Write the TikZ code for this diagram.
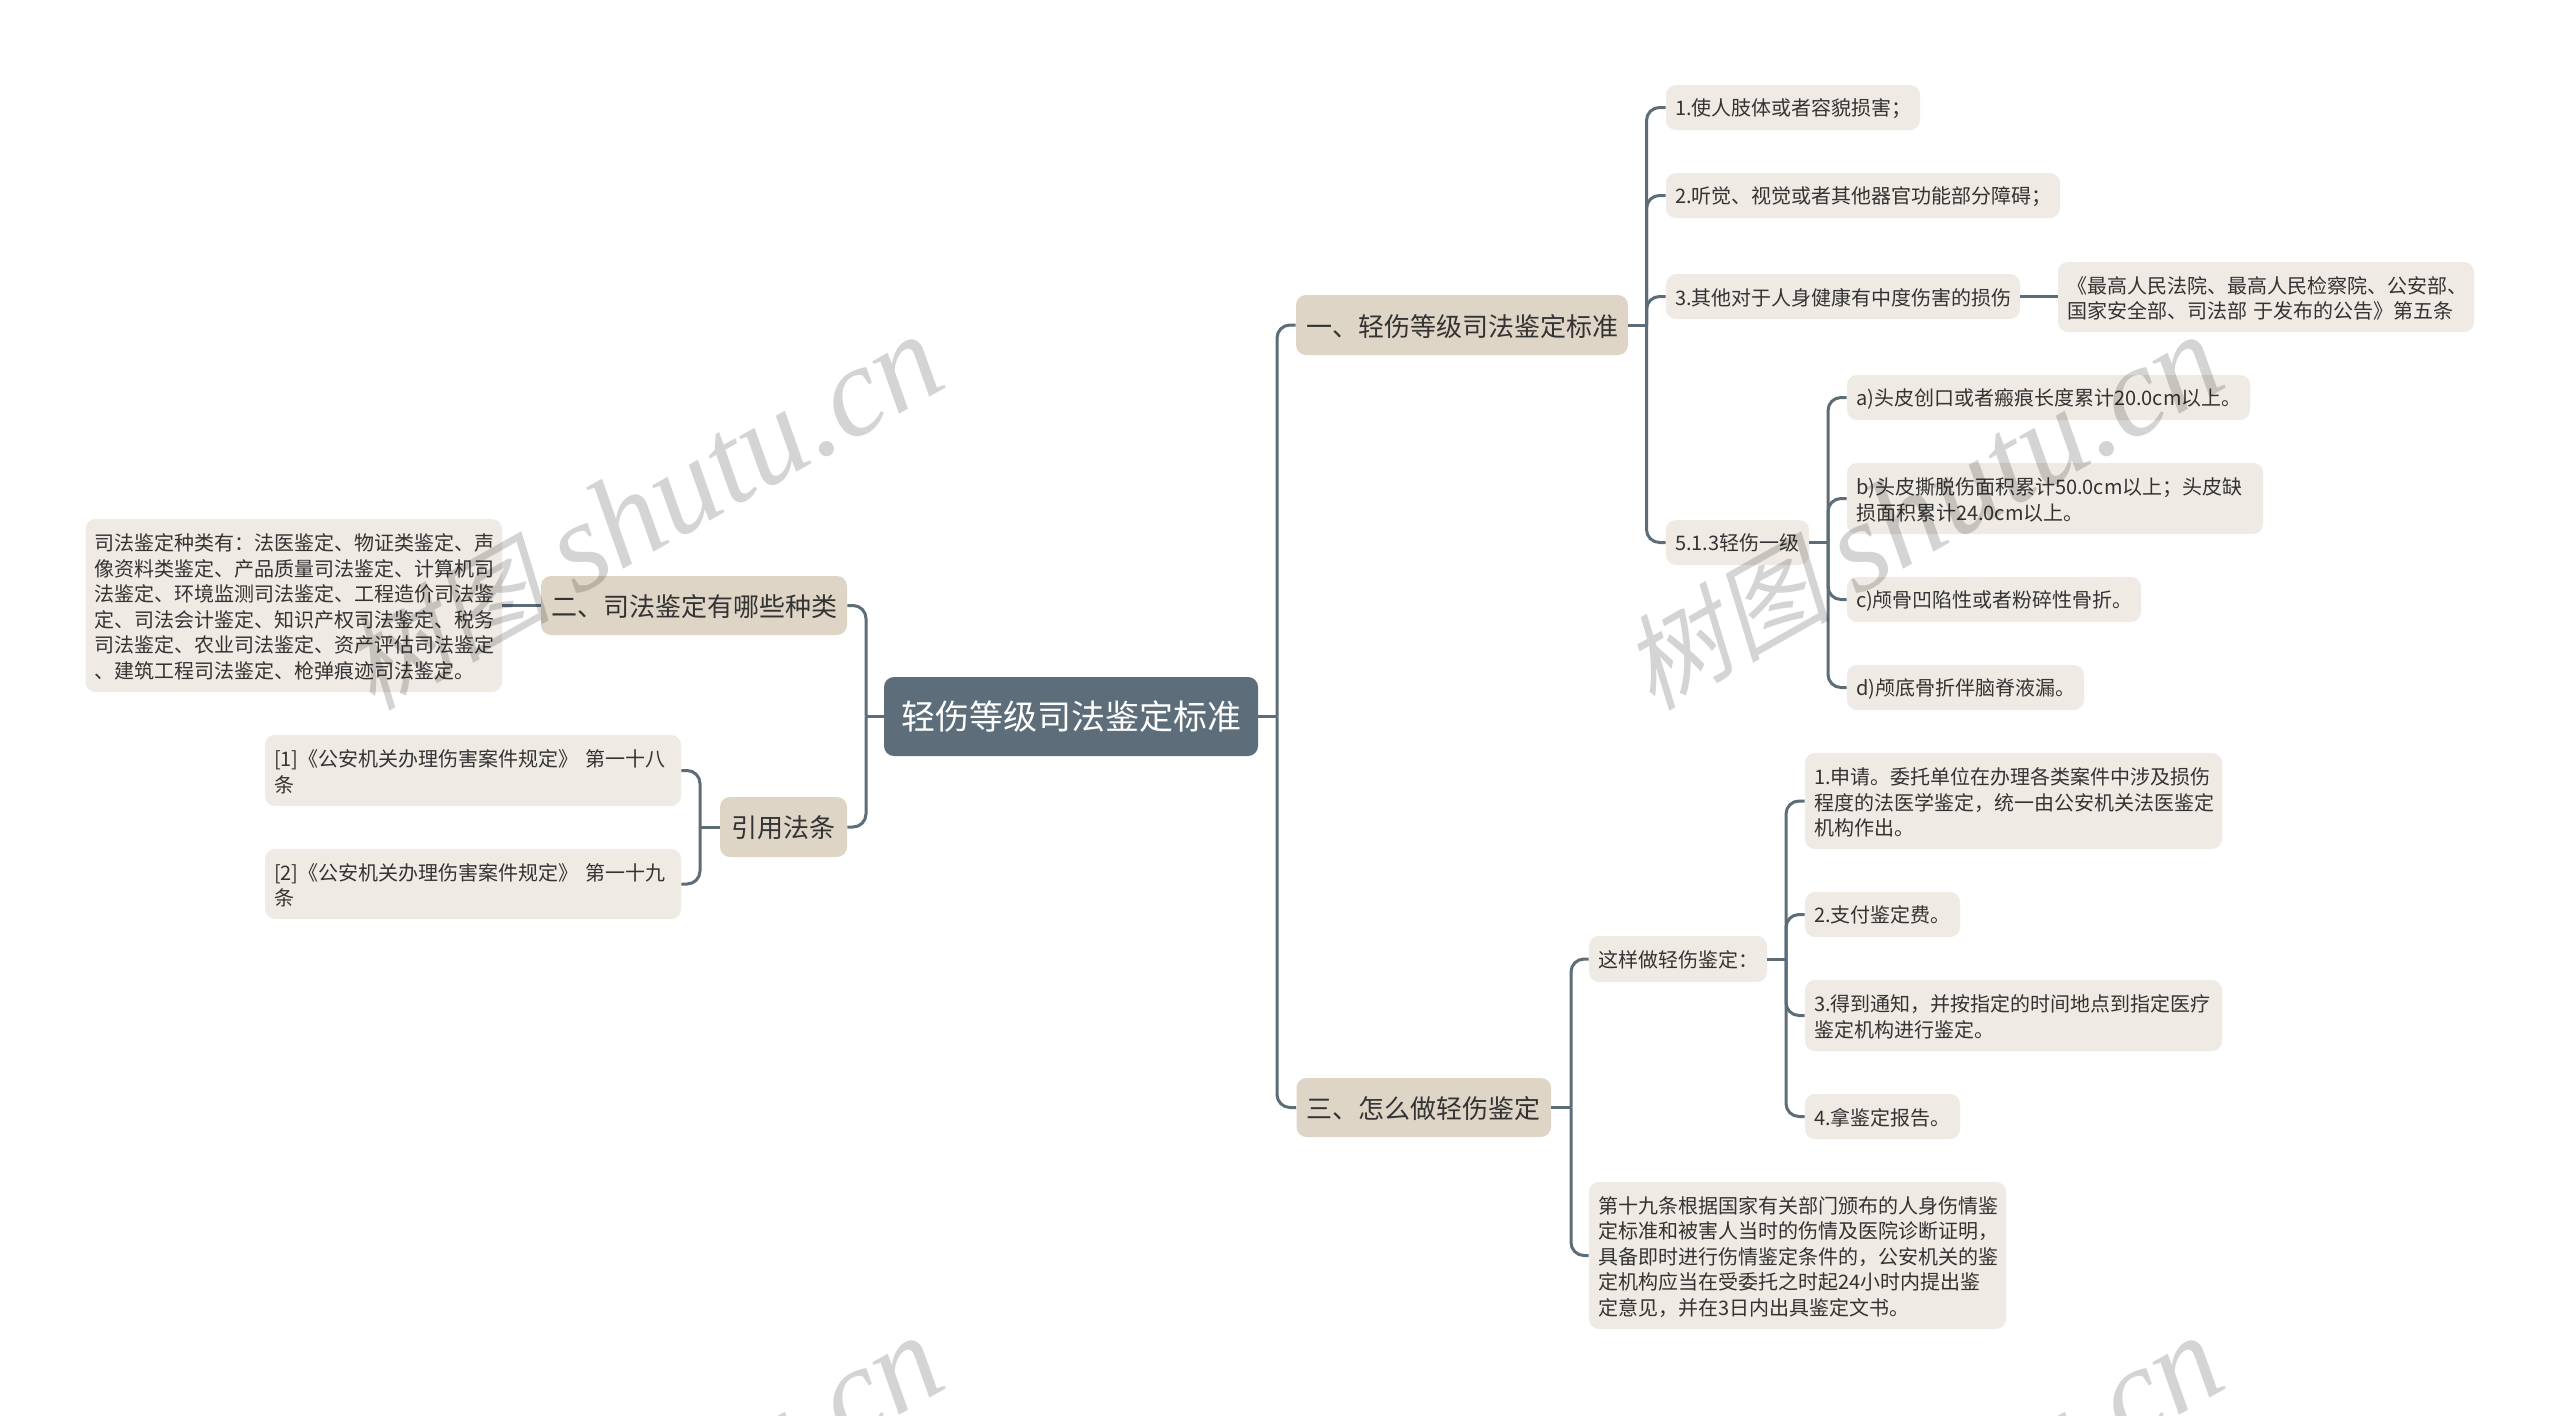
\documentclass[tikz,border=0pt]{standalone}
\usepackage{fontspec}
\setmainfont{Noto Sans CJK SC}
\newfontfamily\wmcjk[FakeSlant=0.22]{Noto Sans CJK SC}
\newfontfamily\wmlat[ItalicFont=Liberation Serif Italic]{Liberation Serif}
\definecolor{rootc}{HTML}{5D6E7A}
\definecolor{branchc}{HTML}{DFD5C6}
\definecolor{leafc}{HTML}{EFEBE4}
\definecolor{linec}{HTML}{5C6D78}
\definecolor{txtc}{HTML}{333333}
\tikzset{
  boxbase/.style={rectangle,rounded corners=5pt,inner sep=0pt,text=txtc},
  rootbox/.style={boxbase,fill=rootc,text=white,align=center,font=\fontsize{17}{21}\selectfont},
  branchbox/.style={boxbase,fill=branchc,align=center,font=\fontsize{13}{16}\selectfont},
  leafbox/.style={boxbase,fill=leafc,align=left,font=\fontsize{10}{12.75}\selectfont},
  conn/.style={draw=linec,line width=1.5pt,rounded corners=6.5pt},
  stub/.style={draw=linec,line width=1.5pt},
  wmark/.style={text=black,text opacity=0.17,rotate=29.4,inner sep=0pt,anchor=base}
}
\newcommand\wmtext{{\wmcjk\fontsize{52}{60}\selectfont 树图}\hspace{13pt}{\wmlat\itshape\fontsize{64}{64}\selectfont shutu.cn}}
\newcommand\tshift{1.5pt}
% style, name, x1, y1, x2, y2, text (reference pixels)
\newcommand\bx[7]{%
  \pgfmathsetlengthmacro\bw{(#5-#3)*0.5pt}%
  \pgfmathsetlengthmacro\bh{(#6-#4)*0.5pt}%
  \pgfmathsetlengthmacro\tw{(#5-#3-18)*0.5pt}%
  \pgfmathsetmacro\cx{(#3+#5)/2}%
  \pgfmathsetmacro\cy{(#4+#6)/2}%
  \node[#1,minimum width=\bw,minimum height=\bh,text width=\tw] (#2) at (\cx,\cy) {#7\par\vspace{-\tshift}};%
}
\newcommand\lnk[3]{\draw[conn] (#2 |- #1) -- (#2 |- #3) -- (#3);}
\begin{document}
\begin{tikzpicture}[x=0.5pt,y=-0.5pt]
\useasboundingbox (0,0) rectangle (2560,1415);
\fill[white] (0,0) rectangle (2560,1415);

\coordinate (busR) at (1277,716);
\coordinate (busL) at (866,716);
\coordinate (busA) at (1646.5,325);
\coordinate (busB) at (1828,542);
\coordinate (busC) at (1571,1108);
\coordinate (busD) at (1786,959);
\coordinate (busE) at (700,827);

\renewcommand\tshift{0pt}
\bx{rootbox}{root}{884}{677}{1258}{756}{轻伤等级司法鉴定标准}
\renewcommand\tshift{1.5pt}
\bx{branchbox}{bA}{1296}{295}{1628}{355}{一、轻伤等级司法鉴定标准}
\bx{branchbox}{bC}{1296.5}{1078}{1551}{1137}{三、怎么做轻伤鉴定}
\bx{branchbox}{bB}{541}{576}{847}{635}{二、司法鉴定有哪些种类}
\bx{branchbox}{bY}{720}{797}{847}{857}{引用法条}

\bx{leafbox}{a1}{1666}{85}{1920}{130}{1.使人肢体或者容貌损害；}
\bx{leafbox}{a2}{1666}{173}{2060}{218}{2.听觉、视觉或者其他器官功能部分障碍；}
\bx{leafbox}{a3}{1666}{274}{2020}{319}{3.其他对于人身健康有中度伤害的损伤}
\bx{leafbox}{a3r}{2058}{262}{2474}{332}{《最高人民法院、最高人民检察院、公安部、\\国家安全部、司法部 于发布的公告》第五条}
\bx{leafbox}{a4}{1666}{520}{1809}{565}{5.1.3轻伤一级}
\bx{leafbox}{s1}{1847}{375}{2250}{420}{a)头皮创口或者瘢痕长度累计20.0cm以上。}
\bx{leafbox}{s2}{1847}{463}{2263}{534}{b)头皮撕脱伤面积累计50.0cm以上；头皮缺\\损面积累计24.0cm以上。}
\bx{leafbox}{s3}{1847}{577}{2141}{622}{c)颅骨凹陷性或者粉碎性骨折。}
\bx{leafbox}{s4}{1847}{665}{2084}{710}{d)颅底骨折伴脑脊液漏。}

\bx{leafbox}{c1}{1589}{936}{1767}{982}{这样做轻伤鉴定：}
\bx{leafbox}{c2}{1589}{1182}{2006}{1329}{第十九条根据国家有关部门颁布的人身伤情鉴\\定标准和被害人当时的伤情及医院诊断证明，\\具备即时进行伤情鉴定条件的，公安机关的鉴\\定机构应当在受委托之时起24小时内提出鉴\\定意见，并在3日内出具鉴定文书。}
\bx{leafbox}{d1}{1805}{753}{2222}{849}{1.申请。委托单位在办理各类案件中涉及损伤\\程度的法医学鉴定，统一由公安机关法医鉴定\\机构作出。}
\bx{leafbox}{d2}{1805}{892}{1960}{937}{2.支付鉴定费。}
\bx{leafbox}{d3}{1805}{980}{2222}{1051}{3.得到通知，并按指定的时间地点到指定医疗\\鉴定机构进行鉴定。}
\bx{leafbox}{d4}{1805}{1094}{1960}{1139}{4.拿鉴定报告。}

\bx{leafbox}{l1}{85.5}{519}{502}{692}{司法鉴定种类有：法医鉴定、物证类鉴定、声\\像资料类鉴定、产品质量司法鉴定、计算机司\\法鉴定、环境监测司法鉴定、工程造价司法鉴\\定、司法会计鉴定、知识产权司法鉴定、税务\\司法鉴定、农业司法鉴定、资产评估司法鉴定\\、建筑工程司法鉴定、枪弹痕迹司法鉴定。}
\bx{leafbox}{y1}{265}{735}{681}{806}{[1]《公安机关办理伤害案件规定》 第一十八\\条}
\bx{leafbox}{y2}{265}{849}{681}{919}{[2]《公安机关办理伤害案件规定》 第一十九\\条}

% root to main branches
\draw[stub] (root.east) -- (busR |- root.east);
\draw[stub] (root.west) -- (busL |- root.west);
\lnk{root.east}{busR}{bA.west}
\lnk{root.east}{busR}{bC.west}
\lnk{root.west}{busL}{bB.east}
\lnk{root.west}{busL}{bY.east}
% first branch
\draw[stub] (bA.east) -- (busA |- bA.east);
\lnk{bA.east}{busA}{a1.west}
\lnk{bA.east}{busA}{a2.west}
\lnk{bA.east}{busA}{a3.west}
\lnk{bA.east}{busA}{a4.west}
\draw[stub] (a3.east) -- (a3r.west |- a3.east);
\draw[stub] (a4.east) -- (busB |- a4.east);
\lnk{a4.east}{busB}{s1.west}
\lnk{a4.east}{busB}{s2.west}
\lnk{a4.east}{busB}{s3.west}
\lnk{a4.east}{busB}{s4.west}
% third branch
\draw[stub] (bC.east) -- (busC |- bC.east);
\lnk{bC.east}{busC}{c1.west}
\lnk{bC.east}{busC}{c2.west}
\draw[stub] (c1.east) -- (busD |- c1.east);
\lnk{c1.east}{busD}{d1.west}
\lnk{c1.east}{busD}{d2.west}
\lnk{c1.east}{busD}{d3.west}
\lnk{c1.east}{busD}{d4.west}
% left branches
\draw[stub] (bB.west) -- (l1.east |- bB.west);
\draw[stub] (bY.west) -- (busE |- bY.west);
\lnk{bY.west}{busE}{y1.east}
\lnk{bY.west}{busE}{y2.east}

% watermarks
\begin{scope}
\clip (0,0) rectangle (2560,1415);
\node[wmark] (w1) at (662,548) {\wmtext};
\node[wmark] (w2) at (1942,548) {\wmtext};
\node[wmark] (w3) at (662,1549) {\wmtext};
\node[wmark] (w4) at (1942,1549) {\wmtext};
\end{scope}
\end{tikzpicture}
\end{document}
